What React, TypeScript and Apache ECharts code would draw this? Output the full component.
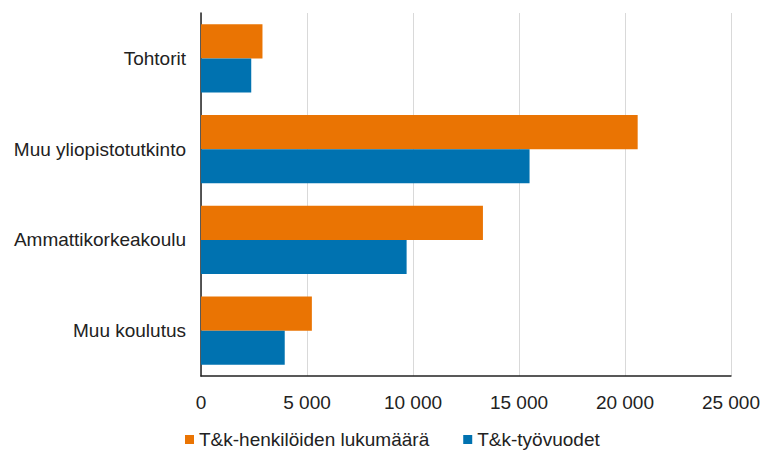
import React, { useEffect, useRef } from "react";
import * as echarts from "echarts";

const categories = ["Tohtorit", "Muu yliopistotutkinto", "Ammattikorkeakoulu", "Muu koulutus"];
const seriesNames = ["T&k-henkilöiden lukumäärä", "T&k-työvuodet"];
const henkilot = [2900, 20600, 13300, 5230];
const tyovuodet = [2370, 15500, 9700, 3950];
const colors = ["#ea7403", "#0072b0"];

export default function App() {
  const ref = useRef<HTMLDivElement>(null);
  useEffect(() => {
    if (!ref.current) return;
    const chart = echarts.init(ref.current, undefined, { renderer: "svg" });
    const font = "'Liberation Sans', Arial, sans-serif";
    const fs = 19;
    chart.setOption({
      animation: false,
      color: colors,
      textStyle: { fontFamily: font },
      grid: { left: 201, right: 31, top: 13, bottom: 74, containLabel: false },
      legend: {
        left: 185,
        top: 430,
        padding: 0,
        icon: "rect",
        itemWidth: 9,
        itemHeight: 9,
        itemGap: 34,
        textStyle: { fontSize: fs, color: "#222", fontFamily: font },
        data: seriesNames,
      },
      xAxis: {
        type: "value",
        min: 0,
        max: 25000,
        interval: 5000,
        axisLine: { show: true, lineStyle: { color: "#222", width: 1.5 } },
        axisTick: { show: false },
        splitLine: { show: true, lineStyle: { color: "#d9d9d9", width: 1 } },
        axisLabel: {
          color: "#222",
          fontSize: fs,
          fontFamily: font,
          margin: 17,
          formatter: (v: number) => (v >= 1000 ? String(v).replace(/\B(?=(\d{3})+(?!\d))/g, " ") : String(v)),
        },
      },
      yAxis: {
        type: "category",
        inverse: true,
        data: categories,
        axisLine: { show: true, lineStyle: { color: "#222", width: 1.5 } },
        axisTick: { show: false },
        axisLabel: { color: "#222", fontSize: fs, fontFamily: font, margin: 15 },
      },
      series: [
        {
          name: seriesNames[0],
          type: "bar",
          data: henkilot,
          barGap: "0%",
          barCategoryGap: "25%",
          itemStyle: { color: colors[0] },
        },
        {
          name: seriesNames[1],
          type: "bar",
          data: tyovuodet,
          barGap: "0%",
          barCategoryGap: "25%",
          itemStyle: { color: colors[1] },
        },
      ],
    });
    return () => chart.dispose();
  }, []);
  return <div ref={ref} style={{ width: 763, height: 450, position: "absolute", left: 0, top: 0 }} />;
}
